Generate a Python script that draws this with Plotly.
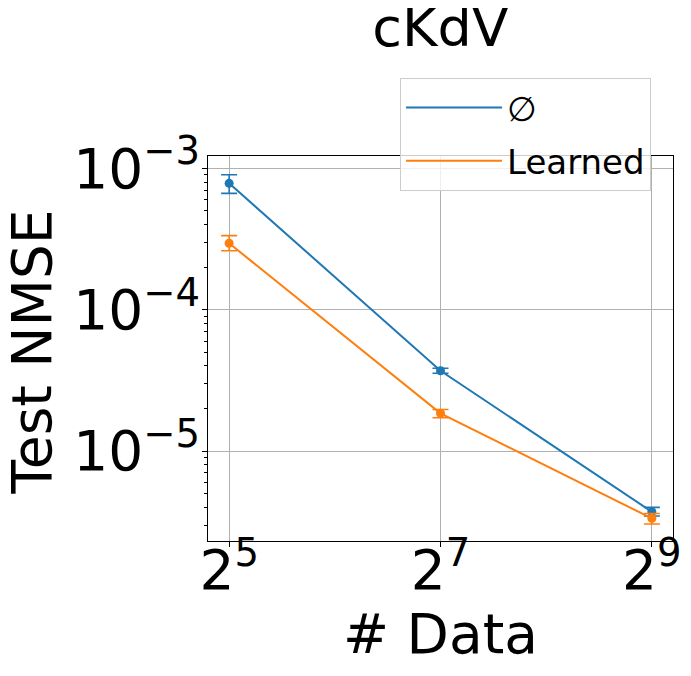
import numpy as np
import plotly.graph_objects as go

# ---- data ----
n_data = [32, 128, 512]
none_mean = [7.83e-4, 3.70e-5, 3.72e-6]
none_hi = [9.01e-4, 3.85e-5, 4.00e-6]
none_lo = [6.65e-4, 3.55e-5, 3.47e-6]
learned_mean = [2.95e-4, 1.85e-5, 3.34e-6]
learned_hi = [3.34e-4, 1.97e-5, 3.62e-6]
learned_lo = [2.61e-4, 1.72e-5, 3.05e-6]

x_tickvals = [32, 128, 512]
x_ticktext = ["2<sup>5</sup>", "2<sup>7</sup>", "2<sup>9</sup>"]
y_tickvals = [1e-3, 1e-4, 1e-5]
y_ticktext = ["10<sup>\u22123</sup>", "10<sup>\u22124</sup>", "10<sup>\u22125</sup>"]
y_minor = [m * 10.0**e for e in (-6, -5, -4, -3) for m in range(2, 10)]

BLUE = "#1f77b4"
ORANGE = "#ff7f0e"
FONT = "DejaVu Sans"

# page body has an 8px margin, so the figure is drawn 8px smaller
W, H = 683, 668
L, R, T, B = 200, 18, 148, 135

fig = go.Figure()

def add_series(x, mean, hi, lo, color, name):
    plus = [h - m for h, m in zip(hi, mean)]
    minus = [m - l for m, l in zip(mean, lo)]
    fig.add_trace(go.Scatter(
        x=x, y=mean, mode="lines+markers", name=name, showlegend=False,
        line=dict(color=color, width=2),
        marker=dict(color=color, size=9),
        error_y=dict(type="data", symmetric=False, array=plus, arrayminus=minus,
                     color=color, thickness=1.6, width=8),
    ))

add_series(n_data, none_mean, none_hi, none_lo, BLUE, "\u2205")
add_series(n_data, learned_mean, learned_hi, learned_lo, ORANGE, "Learned")

# legend proxies (line only, as in the reference)
for i, (color, name) in enumerate(((BLUE, "\u2205"), (ORANGE, "Learned"))):
    fig.add_trace(go.Scatter(x=[None], y=[None], mode="lines", name=name,
                             legendgroup=f"g{i}",
                             line=dict(color=color, width=2)))

log2 = np.log10(2)
fig.update_layout(
    width=W, height=H,
    margin=dict(l=L, r=R, t=T, b=B, autoexpand=False),
    paper_bgcolor="white", plot_bgcolor="white",
    font=dict(family=FONT, color="black", size=55),
    title=dict(text="cKdV", x=0.5, xref="paper", xanchor="center",
               y=1 - 19 / H, yref="container", yanchor="middle",
               font=dict(size=54), automargin=False),
    showlegend=True,
    legend=dict(x=0.413, y=1.2026, xanchor="left", yanchor="top",
                bgcolor="rgba(255,255,255,0.8)", bordercolor="#cccccc",
                borderwidth=1, font=dict(size=34), itemwidth=96,
                tracegroupgap=6),
    xaxis=dict(type="log", range=[4.8 * log2, 9.2 * log2], automargin=False,
               tickvals=x_tickvals, ticktext=x_ticktext,
               ticks="outside", ticklen=5, tickcolor="black", tickwidth=1.1,
               showgrid=True, gridcolor="#b0b0b0", gridwidth=1.1,
               showline=True, linecolor="black", linewidth=1.1, mirror=True,
               zeroline=False, tickfont=dict(size=55), ticklabelstandoff=-24,
               title=dict(text="# Data", font=dict(size=55), standoff=0)),
    yaxis=dict(type="log", range=[-5.636, -2.913], automargin=False,
               tickvals=y_tickvals, ticktext=y_ticktext,
               ticks="outside", ticklen=5, tickcolor="black", tickwidth=1.1,
               showgrid=True, gridcolor="#b0b0b0", gridwidth=1.1,
               showline=True, linecolor="black", linewidth=1.1, mirror=True,
               zeroline=False, tickfont=dict(size=55), ticklabelstandoff=-9,
               minor=dict(tickvals=y_minor, ticks="outside", ticklen=3,
                          tickcolor="black", tickwidth=0.8, showgrid=False)),
    annotations=[dict(text="Test NMSE", textangle=-90, showarrow=False,
                      xref="paper", yref="paper", x=-0.379, y=0.4917,
                      xanchor="center", yanchor="middle",
                      font=dict(size=55))],
)

fig.write_html("out.html")
